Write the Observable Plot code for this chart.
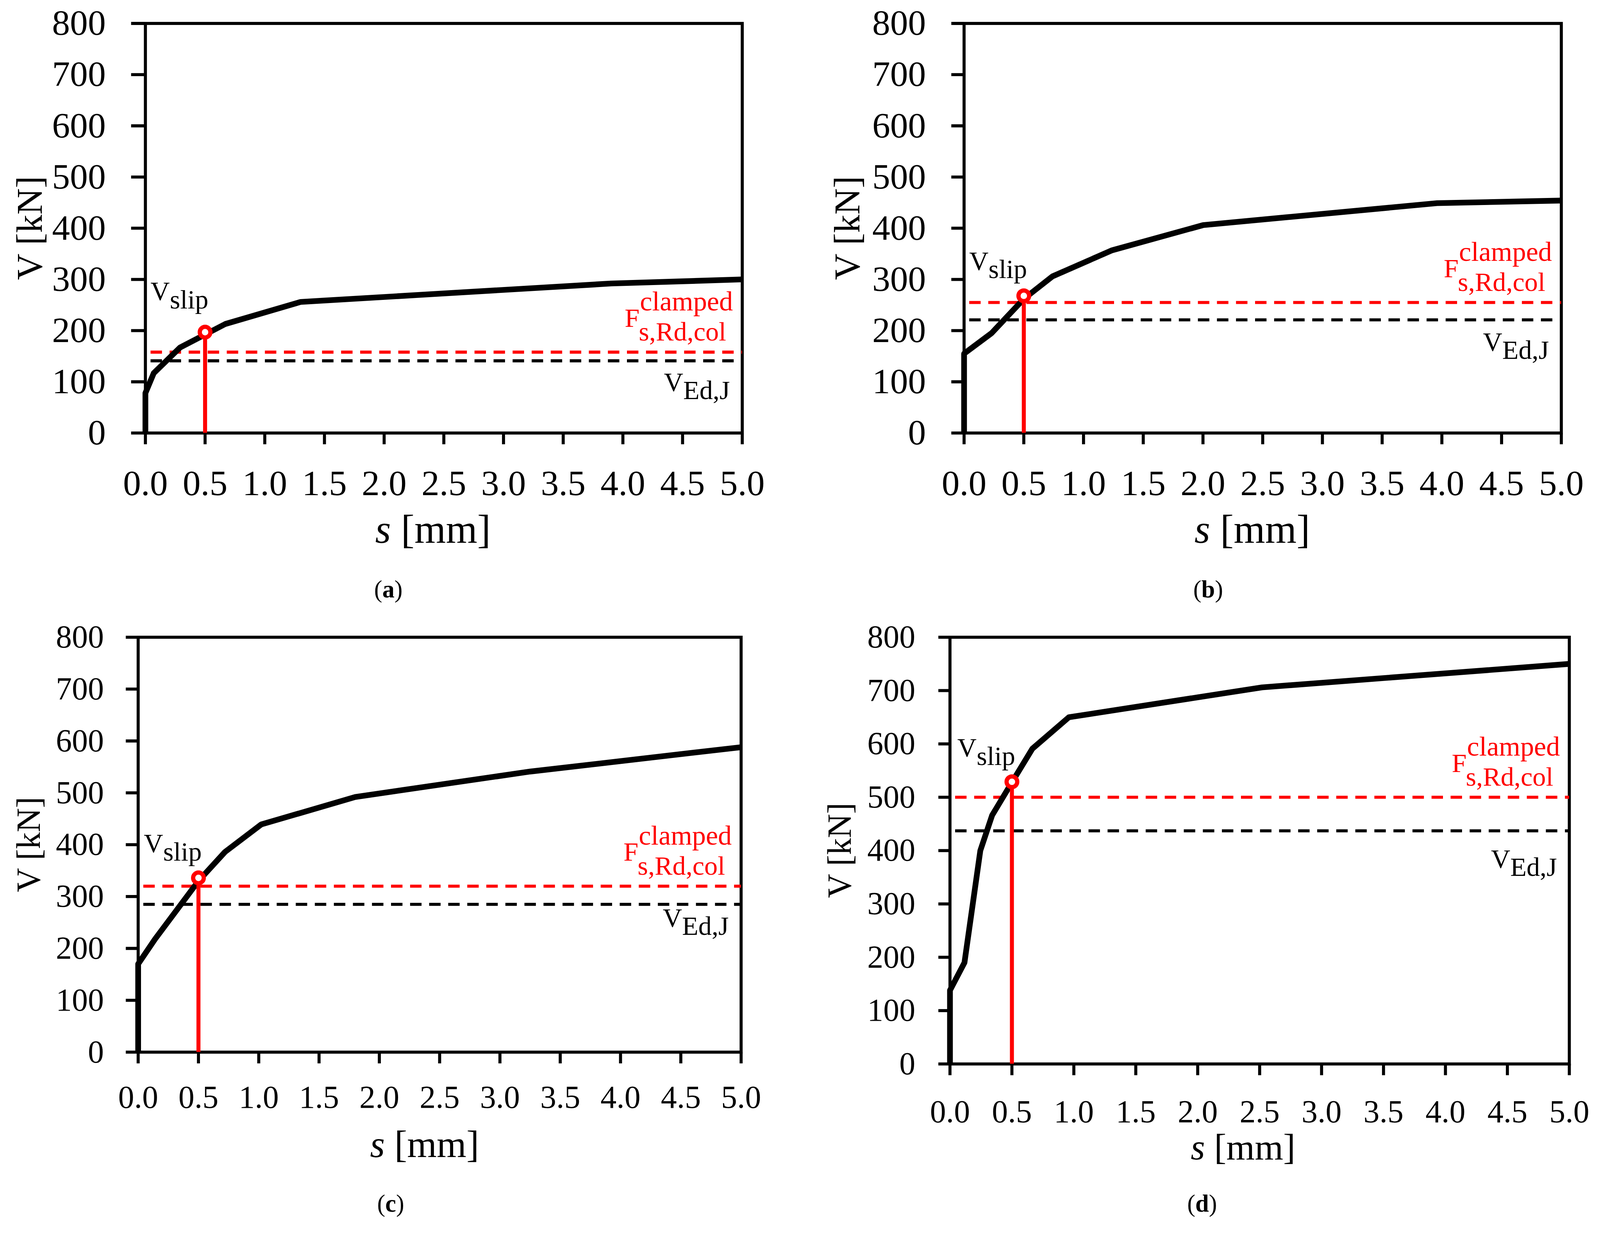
<!DOCTYPE html>
<html>
<head>
<meta charset="utf-8">
<script src="https://cdn.jsdelivr.net/npm/d3@7"></script>
<script src="https://cdn.jsdelivr.net/npm/@observablehq/plot@0.6"></script>
<style>
  html, body { margin: 0; padding: 0; background: #fff; overflow: hidden; }
  #root { position: relative; width: 4198px; height: 3219px; background: #fff; overflow: hidden; transform-origin: 0 0; }
  .panel { position: absolute; }
  .cap { position: absolute; font-family: "Liberation Serif", serif; font-size: 64px; line-height: 1; transform: translate(-50%, -50%); color: #000; white-space: nowrap; }
</style>
</head>
<body>
<div id="root"></div>
<script>
// ---------- data ----------
const xTicks = [0, 0.5, 1, 1.5, 2, 2.5, 3, 3.5, 4, 4.5, 5];
const yTicks = [0, 100, 200, 300, 400, 500, 600, 700, 800];
const panelNames = ["a", "b", "c", "d"];

const sA = [0, 0, 0.07, 0.29, 0.67, 1.3, 3.9, 5];
const vA = [0, 78, 117, 167, 213, 256, 292, 300];
const sB = [0, 0, 0.23, 0.5, 0.74, 1.24, 2.0, 3.96, 5];
const vB = [0, 155, 195, 262, 306, 357, 406, 449, 454];
const sC = [0, 0, 0.14, 0.5, 0.72, 1.02, 1.8, 3.25, 5];
const vC = [0, 170, 218, 330, 386, 439, 492, 541, 588];
const sD = [0, 0, 0.117, 0.245, 0.34, 0.5, 0.665, 0.96, 2.52, 5];
const vD = [0, 138, 190, 400, 466, 528, 591, 650, 706, 750];

const slipS = [0.5, 0.5, 0.5, 0.5];
const slipV = [197, 268, 336, 529];
const fsRdCol = [158, 255, 320, 500];
const vEdJ = [141, 221, 285, 437];

const curves = [[sA, vA], [sB, vB], [sC, vC], [sD, vD]];

// ---------- layout / style ----------
const FONT = '"Liberation Serif", "Times New Roman", serif';
const RED = "#ff0000";
const layout = [
  {left: 0,    top: 0,    width: 2099, height: 1470, mL: 381, mR: 152, mT: 61, mB: 334, tick: 94, ySize: 37, yPad: 67, xSize: 30, xPad: 66, lab: 106, ylab: 96, yLabDx: -304, xLabDx: -28, xLabDy: 289, slipOff: 62, edOff: 79, cap: [1019, 1547]},
  {left: 2099, top: 0,    width: 2099, height: 1470, mL: 430, mR: 102, mT: 61, mB: 334, tick: 94, ySize: 33, yPad: 67, xSize: 30, xPad: 66, lab: 106, ylab: 96, yLabDx: -307, xLabDx: -27, xLabDy: 289, slipOff: 46, edOff: 81, cap: [3170, 1547]},
  {left: 0,    top: 1600, width: 2099, height: 1500, mL: 362, mR: 155, mT: 72, mB: 339, tick: 84, ySize: 32, yPad: 58, xSize: 30, xPad: 57, lab: 100, ylab: 88, yLabDx: -287, xLabDx: -39, xLabDy: 276, slipOff: 45, edOff: 59, cap: [1025, 3159]},
  {left: 2099, top: 1600, width: 2099, height: 1500, mL: 393, mR: 81,  mT: 72, mB: 308, tick: 84, ySize: 30, yPad: 61, xSize: 30, xPad: 63, lab: 96,  ylab: 88, yLabDx: -289, xLabDx: -43, xLabDy: 251, slipOff: 44, edOff: 97, cap: [3154, 3159]}
];

const root = document.getElementById("root");

panelNames.forEach((name, i) => {
  const L = layout[i];
  const [ss, vv] = curves[i];
  const curve = ss.map((s, k) => ({s, v: vv[k]}));
  const slip = [{s: slipS[i], v: slipV[i]}];

  const chart = Plot.plot({
    width: L.width,
    height: L.height,
    marginLeft: L.mL,
    marginRight: L.mR,
    marginTop: L.mT,
    marginBottom: L.mB,
    style: {fontFamily: FONT, color: "#000", background: "#fff", overflow: "visible"},
    x: {domain: [0, 5]},
    y: {domain: [0, 800]},
    marks: [
      Plot.frame({stroke: "#000", strokeWidth: 8}),
      Plot.ruleY([fsRdCol[i]], {stroke: RED, strokeWidth: 8, strokeDasharray: "30,20", strokeDashoffset: -14}),
      Plot.ruleY([vEdJ[i]], {stroke: "#000", strokeWidth: 8, strokeDasharray: "30,20", strokeDashoffset: -14}),
      Plot.line(curve, {x: "s", y: "v", stroke: "#000", strokeWidth: 15, strokeLinejoin: "round", strokeLinecap: "butt"}),
      Plot.ruleX(slip, {x: "s", y1: 0, y2: "v", stroke: RED, strokeWidth: 10.5, insetBottom: 8}),
      Plot.dot(slip, {x: "s", y: "v", r: 14, stroke: RED, strokeWidth: 11, fill: "#fff"}),
      Plot.axisX({ticks: xTicks, tickFormat: d => d.toFixed(1), tickSize: L.xSize, tickPadding: L.xPad, strokeWidth: 8, fontSize: L.tick, label: null}),
      Plot.axisY({ticks: yTicks, tickFormat: d => String(d), tickSize: L.ySize, tickPadding: L.yPad, strokeWidth: 8, fontSize: L.tick, label: null})
    ]
  });

  const wrap = document.createElement("div");
  wrap.className = "panel";
  wrap.style.left = L.left + "px";
  wrap.style.top = L.top + "px";
  wrap.appendChild(chart);
  root.appendChild(wrap);

  // annotations using the chart's own scales
  const X = chart.scale("x"), Y = chart.scale("y");
  const xL = X.apply(0), xR = X.apply(5), yB = Y.apply(0), yT = Y.apply(800);
  const g = d3.select(chart).append("g")
    .attr("font-family", FONT)
    .attr("text-anchor", "start");

  // axis titles
  const xt = g.append("text")
    .attr("x", (xL + xR) / 2 + L.xLabDx)
    .attr("y", yB + L.xLabDy)
    .attr("text-anchor", "middle")
    .attr("font-size", L.lab)
    .attr("fill", "#000");
  xt.append("tspan").attr("font-style", "italic").text("s");
  xt.append("tspan").text(" [mm]");

  g.append("text")
    .attr("transform", `translate(${xL + L.yLabDx},${(yT + yB) / 2}) rotate(-90)`)
    .attr("text-anchor", "middle")
    .attr("dominant-baseline", "central")
    .attr("font-size", L.ylab)
    .attr("fill", "#000")
    .text("V [kN]");

  // V_slip label
  const px = X.apply(slipS[i]), py = Y.apply(slipV[i]);
  const vs = g.append("text")
    .attr("x", px + 9)
    .attr("y", py - L.slipOff - 22)
    .attr("text-anchor", "end")
    .attr("font-size", 70)
    .attr("fill", "#000");
  vs.append("tspan").text("V");
  vs.append("tspan").attr("dy", 22).text("slip");

  // F^clamped_{s,Rd,col}
  const yr = Y.apply(fsRdCol[i]);
  g.append("text").attr("text-anchor", "start").attr("x", xR - 308).attr("y", yr - 66).attr("font-size", 70).attr("fill", RED).text("F");
  g.append("text").attr("text-anchor", "start").attr("x", xR - 268).attr("y", yr - 109).attr("font-size", 72).attr("fill", RED).text("clamped");
  g.append("text").attr("text-anchor", "start").attr("x", xR - 271).attr("y", yr - 30).attr("font-size", 70).attr("fill", RED).text("s,Rd,col");

  // V_Ed,J
  const yk = Y.apply(vEdJ[i]);
  const ve = g.append("text")
    .attr("text-anchor", "start")
    .attr("x", xR - 205)
    .attr("y", yk + L.edOff)
    .attr("font-size", 70)
    .attr("fill", "#000");
  ve.append("tspan").text("V");
  ve.append("tspan").attr("dy", 22).text("Ed,J");

  // caption
  const cap = document.createElement("div");
  cap.className = "cap";
  cap.style.left = L.cap[0] + "px";
  cap.style.top = L.cap[1] + "px";
  cap.innerHTML = "(<b>" + name + "</b>)";
  root.appendChild(cap);
});

// fit the 4198×3219 layout into the actual viewport
function fit() {
  const k = Math.min(window.innerWidth / 4198, window.innerHeight / 3219);
  root.style.transform = Math.abs(k - 1) > 0.001 ? `scale(${k})` : "";
}
fit();
window.addEventListener("resize", fit);
</script>
</body>
</html>
